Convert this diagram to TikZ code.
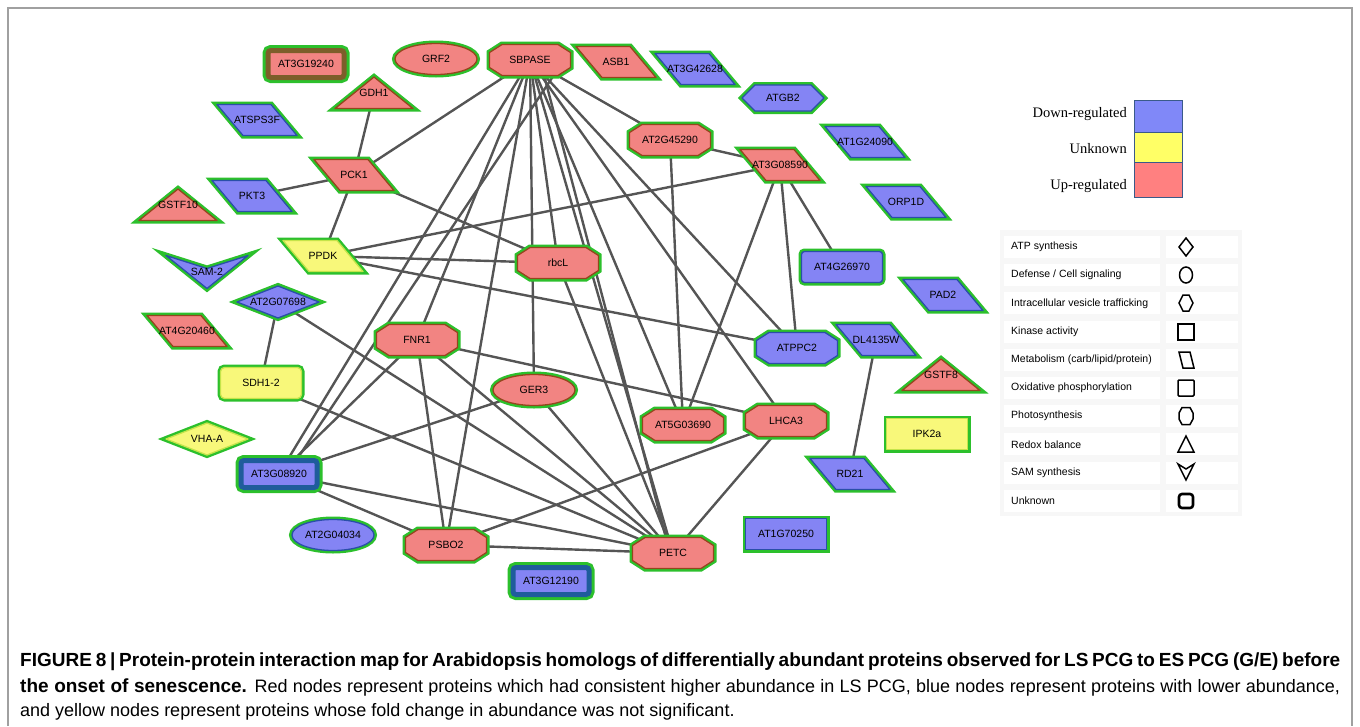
\documentclass[tikz,border=0pt]{standalone}
\usepackage{fontspec}
\setmainfont{Liberation Sans}
\newfontfamily\legserif{Liberation Serif}
\usepackage{tikz}
\usetikzlibrary{backgrounds}
\usepackage{xcolor}
\definecolor{upfill}{HTML}{F28482}
\definecolor{downfill}{HTML}{8484F4}
\definecolor{unkfill}{HTML}{F8F87A}
\definecolor{ringgreen}{HTML}{2CC02C}
\definecolor{upline}{HTML}{94461E}
\definecolor{downline}{HTML}{2A4FA8}
\definecolor{unkline}{HTML}{C4E44A}
\definecolor{dblblue}{HTML}{1F5C9C}
\definecolor{dblbrown}{HTML}{7D5E2A}
\definecolor{linkgray}{HTML}{555555}
\definecolor{legblue}{HTML}{8088F8}
\definecolor{legyellow}{HTML}{FFFF66}
\definecolor{legred}{HTML}{FF8080}
\definecolor{legframe}{HTML}{3A5A8A}
\definecolor{framegray}{HTML}{A0A0A0}
\newcommand\capbf{\fontsize{19}{22}\selectfont\bfseries}
\tikzstyle{lbl}=[font=\fontsize{10.5}{12}\selectfont,inner sep=1pt]
\tikzstyle{ringed}=[line join=round,line width=1.3pt,preaction={draw=ringgreen,line width=6pt}]
\tikzstyle{upreg}=[ringed,fill=upfill,draw=upline]
\tikzstyle{downreg}=[ringed,fill=downfill,draw=downline]
\tikzstyle{unkreg}=[ringed,fill=unkfill,draw=unkline]
\tikzstyle{dblup}=[fill=upfill,draw=dblbrown,line width=5pt,rounded corners=3pt,preaction={draw=ringgreen,line width=11pt}]
\tikzstyle{dbldown}=[fill=downfill,draw=dblblue,line width=5pt,rounded corners=3pt,preaction={draw=ringgreen,line width=11pt}]
\tikzstyle{link}=[draw=linkgray,line width=2.4pt]
\tikzstyle{legtext}=[font=\legserif\fontsize{14.5}{16}\selectfont,inner sep=0]
\tikzstyle{swatch}=[draw=legframe,line width=0.8pt,minimum width=48pt,inner sep=0]
\tikzstyle{keytext}=[font=\fontsize{10.5}{12}\selectfont,anchor=west,inner sep=0]
\tikzstyle{keysym}=[draw=black,line width=1.5pt]
\tikzstyle{capline}=[anchor=base west,inner sep=0,font=\fontsize{18}{22}\selectfont]
% shapes: name, position, text, style
\newcommand\octo[4]{\draw[#4,shift={(#2)}] (-40.5,-7.5) -- (-28,-15.5) -- (28,-15.5) -- (40.5,-7.5)
  -- (40.5,7.5) -- (28,15.5) -- (-28,15.5) -- (-40.5,7.5) -- cycle;
  \node[lbl] (#1) at (#2) {#3};}
\newcommand\para[4]{\draw[#4,shift={(#2)}] (-40,-15.5) -- (14,-15.5) -- (40,15.5) -- (-14,15.5) -- cycle;
  \node[lbl] (#1) at (#2) {#3};}
\newcommand\tri[4]{\draw[#4,shift={(#2)}] (0,-16) -- (39,15.5) -- (-39,15.5) -- cycle;
  \node[lbl] (#1) at (#2) {#3};}
\newcommand\ovalnode[4]{\draw[#4,shift={(#2)}] (0,0) ellipse [x radius=41,y radius=15.5];
  \node[lbl] (#1) at (#2) {#3};}
\newcommand\hexa[4]{\draw[#4,shift={(#2)}] (-41,0) -- (-28,-13) -- (28,-13) -- (41,0) -- (28,13) -- (-28,13) -- cycle;
  \node[lbl] (#1) at (#2) {#3};}
\newcommand\dia[4]{\draw[#4,shift={(#2)}] (-41,0) -- (0,-16) -- (41,0) -- (0,16) -- cycle;
  \node[lbl] (#1) at (#2) {#3};}
\newcommand\vnode[4]{\draw[#4,shift={(#2)}] (-41,-16.5) -- (0,-3.5) -- (41,-16.5) -- (0,16.5) -- cycle;
  \node[lbl] (#1) at (#2) {#3};}
\newcommand\boxnode[4]{\draw[#4,shift={(#2)}] (-40.5,-15.5) rectangle (40.5,15.5);
  \node[lbl] (#1) at (#2) {#3};}
\newcommand\dblbox[4]{\draw[#4,shift={(#2)}] (-38,-13.5) rectangle (38,13.5);
  \node[lbl] (#1) at (#2) {#3};}

\begin{document}
\begin{tikzpicture}[x=1pt,y=-1pt]
  \useasboundingbox (0,0) rectangle (1360,726);
  \draw[framegray,line width=1.2pt] (8,726) -- (8,8) -- (1352,8) -- (1352,726);

  % up-regulated
  \dblbox{at3g19240}{306,64}{AT3G19240}{dblup}
  \ovalnode{grf2}{436,59}{GRF2}{upreg}
  \octo{sbpase}{530,60}{SBPASE}{upreg}
  \para{asb1}{616,62}{ASB1}{upreg}
  \tri{gdh1}{374,93}{GDH1}{upreg}
  \para{pck1}{354,175}{PCK1}{upreg}
  \tri{gstf10}{178,205}{GSTF10}{upreg}
  \octo{at2g45290}{670,140}{AT2G45290}{upreg}
  \para{at3g08590}{780,165}{AT3G08590}{upreg}
  \octo{rbcl}{558,263}{rbcL}{upreg}
  \para{at4g20460}{187,331}{AT4G20460}{upreg}
  \octo{fnr1}{417,340}{FNR1}{upreg}
  \ovalnode{ger3}{534,390}{GER3}{upreg}
  \octo{at5g03690}{683,425}{AT5G03690}{upreg}
  \octo{lhca3}{786,421}{LHCA3}{upreg}
  \tri{gstf8}{941,375}{GSTF8}{upreg}
  \octo{psbo2}{446,545}{PSBO2}{upreg}
  \octo{petc}{673,553}{PETC}{upreg}
  % down-regulated
  \para{at3g42628}{695,69}{AT3G42628}{downreg}
  \hexa{atgb2}{783,98}{ATGB2}{downreg}
  \para{at1g24090}{865,142}{AT1G24090}{downreg}
  \para{orp1d}{906,202}{ORP1D}{downreg}
  \boxnode{at4g26970}{842,267}{AT4G26970}{downreg,rounded corners=3pt}
  \para{pad2}{943,295}{PAD2}{downreg}
  \para{atsps3f}{257,120}{ATSPS3F}{downreg}
  \para{pkt3}{252,196}{PKT3}{downreg}
  \vnode{sam2}{207,272}{SAM-2}{downreg}
  \dia{at2g07698}{278,302}{AT2G07698}{downreg}
  \octo{atppc2}{797,348}{ATPPC2}{downreg}
  \para{dl4135w}{876,340}{DL4135W}{downreg}
  \para{rd21}{850,474}{RD21}{downreg}
  \boxnode{at1g70250}{786,534}{AT1G70250}{downreg}
  \ovalnode{at2g04034}{333,535}{AT2G04034}{downreg}
  \dblbox{at3g08920}{279,474}{AT3G08920}{dbldown}
  \dblbox{at3g12190}{551,581}{AT3G12190}{dbldown}
  % unknown
  \para{ppdk}{323,256}{PPDK}{unkreg}
  \boxnode{sdh12}{261,383}{SDH1-2}{unkreg,rounded corners=4pt}
  \dia{vhaa}{207,439}{VHA-A}{unkreg}
  \boxnode{ipk2a}{927,434}{IPK2a}{unkreg}

  \begin{pgfonlayer}{background}
    \foreach \a/\b in {sbpase/pck1,sbpase/at2g45290,sbpase/at3g08920,sbpase/fnr1,sbpase/psbo2,
        sbpase/rbcl,sbpase/ger3,sbpase/petc,sbpase/at5g03690,sbpase/lhca3,sbpase/atppc2,
        gdh1/pck1,pck1/pkt3,pck1/ppdk,pck1/rbcl,ppdk/at3g08590,ppdk/rbcl,ppdk/atppc2,
        at2g45290/at3g08590,at2g45290/at5g03690,at3g08590/at5g03690,at3g08590/atppc2,
        at3g08590/at4g26970,at2g07698/sdh12,at2g07698/petc,sdh12/petc,at3g08920/fnr1,
        at3g08920/ger3,at3g08920/psbo2,at3g08920/petc,fnr1/psbo2,fnr1/petc,fnr1/lhca3,
        ger3/petc,rbcl/petc,psbo2/petc,psbo2/lhca3,lhca3/petc,dl4135w/rd21}
      \draw[link] (\a) -- (\b);
    \draw[link] ([xshift=34pt]sbpase.center) -- ([xshift=8pt]at3g08920.center);
    \draw[link] ([xshift=10pt]sbpase.center) -- ([xshift=-3pt]petc.center);
  \end{pgfonlayer}

  % colour legend
  \node[legtext,anchor=east] (lgdown) at (1127,114) {Down-regulated};
  \node[legtext,anchor=east] (lgunk) at (1127,149) {Unknown};
  \node[legtext,anchor=east] (lgup) at (1127,186) {Up-regulated};
  \node[swatch,fill=legblue,minimum height=32pt] (swdown) at (1158,116) {};
  \node[swatch,fill=legyellow,minimum height=30pt] (swunk) at (1158,147) {};
  \node[swatch,fill=legred,minimum height=35pt] (swup) at (1158,179.5) {};

  % function legend
  \fill[black!3] (1000,230) rectangle (1242,516);
  \foreach \t [count=\i from 0] in {ATP synthesis,Defense / Cell signaling,Intracellular vesicle trafficking,
      Kinase activity,Metabolism (carb/lipid/protein),Oxidative phosphorylation,Photosynthesis,
      Redox balance,SAM synthesis,Unknown} {
    \fill[white] (1004,{236+28.2*\i}) rectangle (1160,{258+28.2*\i});
    \fill[white] (1166,{236+28.2*\i}) rectangle (1238,{258+28.2*\i});
    \node[keytext] (key\i) at (1011,{247+28.2*\i}) {\t};
  }
  \draw[keysym] (1186,238) -- (1193,247) -- (1186,256) -- (1179,247) -- cycle;
  \draw[keysym] (1186,275) ellipse [x radius=6.5,y radius=8];
  \draw[keysym] (1179,303) -- (1183,295) -- (1189,295) -- (1193,303) -- (1189,311) -- (1183,311) -- cycle;
  \draw[keysym] (1178,324) rectangle (1194,340);
  \draw[keysym] (1179,352) -- (1190,352) -- (1194,368) -- (1183,368) -- cycle;
  \draw[keysym,rounded corners=1pt] (1178,380) rectangle (1194,396);
  \draw[keysym] (1179,413) -- (1182,407.5) -- (1190,407.5) -- (1193,413) -- (1193,419)
    -- (1190,424.5) -- (1182,424.5) -- (1179,419) -- cycle;
  \draw[keysym] (1186,436) -- (1194,452) -- (1178,452) -- cycle;
  \draw[keysym] (1178,464) -- (1186,469) -- (1194,464) -- (1186,480) -- cycle;
  \draw[keysym,line width=2.6pt,rounded corners=3pt] (1179,494) rectangle (1193,508);

  % caption
  \node[capline] (cap1) at (20,666) {\makebox[1320pt][s]{\capbf FIGURE 8 | Protein-protein interaction map for Arabidopsis homologs of differentially abundant proteins observed for LS PCG to ES PCG (G/E) before}};
  \node[capline] (cap2) at (20,692) {\makebox[1320pt][s]{{\capbf the onset of senescence.} Red nodes represent proteins which had consistent higher abundance in LS PCG, blue nodes represent proteins with lower abundance,}};
  \node[capline] (cap3) at (20,716) {and yellow nodes represent proteins whose fold change in abundance was not significant.};
\end{tikzpicture}
\end{document}
